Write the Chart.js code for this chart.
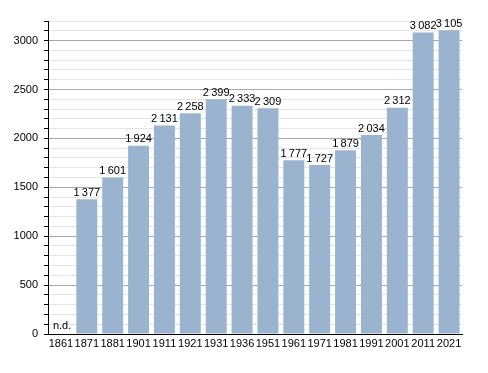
<!DOCTYPE html>
<html>
<head>
<meta charset="utf-8">
<script src="https://cdn.jsdelivr.net/npm/chart.js@4/dist/chart.umd.min.js"></script>
<style>
  html, body { margin: 0; padding: 0; background: #fff; }
  #wrap { width: 488px; height: 373px; position: relative; }
</style>
</head>
<body>
<div id="wrap"><canvas id="popChart"></canvas></div>
<script>
// anni dei censimenti
const years = ['1861', '1871', '1881', '1901', '1911', '1921', '1931', '1936', '1951', '1961', '1971', '1981', '1991', '2001', '2011', '2021'];
// abitanti (1861 non disponibile)
const population = [null, 1377, 1601, 1924, 2131, 2258, 2399, 2333, 2309, 1777, 1727, 1879, 2034, 2312, 3082, 3105];
// tacche principali dell'asse y
const majorTicks = [0, 500, 1000, 1500, 2000, 2500, 3000];

const barColor = '#9ab3ce';
const fontFamily = '"Liberation Sans", Arial, sans-serif';

function formatNum(v) {
    return String(v).replace(/\B(?=(\d{3})+(?!\d))/g, '\u2009');
}

// etichette sopra le barre + "n.d." per il dato mancante
const valueLabels = {
    id: 'valueLabels',
    afterDatasetsDraw(chart) {
        const ctx = chart.ctx;
        const meta = chart.getDatasetMeta(0);
        ctx.save();
        ctx.font = '11px ' + fontFamily;
        ctx.fillStyle = '#000';
        ctx.textAlign = 'center';
        ctx.textBaseline = 'bottom';
        meta.data.forEach((bar, i) => {
            const v = population[i];
            if (v == null) return;
            ctx.fillText(formatNum(v), bar.x, bar.y - 1);
        });
        population.forEach((v, i) => {
            if (v != null) return;
            const x = chart.scales.x.getPixelForValue(i);
            ctx.textAlign = 'left';
            ctx.textBaseline = 'alphabetic';
            ctx.fillText('n.d.', Math.max(x - 8, chart.chartArea.left + 3), chart.chartArea.bottom - 5);
        });
        ctx.restore();
    }
};

new Chart(document.getElementById('popChart'), {
    type: 'bar',
    data: {
        labels: years,
        datasets: [{
            data: population,
            backgroundColor: barColor,
            borderWidth: 0,
            barPercentage: 0.81,
            categoryPercentage: 1.0
        }]
    },
    options: {
        responsive: true,
        maintainAspectRatio: false,
        animation: false,
        layout: { padding: { top: 21, right: 26, left: 0, bottom: 0 } },
        plugins: {
            legend: { display: false },
            tooltip: { enabled: false }
        },
        scales: {
            x: {
                grid: { display: false, drawTicks: false },
                border: { color: '#000', width: 1 },
                ticks: { color: '#000', font: { size: 11, family: fontFamily }, padding: 3, maxRotation: 0, autoSkip: false },
                afterFit(scale) { scale.height = 39; }
            },
            y: {
                min: 0,
                max: 3200,
                border: { color: '#000', width: 1 },
                grid: {
                    color: (c) => majorTicks.includes(c.tick.value) ? '#a8a8a8' : '#e4e4e4',
                    tickColor: '#000',
                    tickLength: 4,
                    drawTicks: true
                },
                ticks: {
                    stepSize: 100,
                    autoSkip: false,
                    color: '#000',
                    font: { size: 11, family: fontFamily },
                    padding: 6,
                    callback: (v) => majorTicks.includes(v) ? String(v) : ''
                },
                afterFit(scale) { scale.width = 48; }
            }
        }
    },
    plugins: [valueLabels]
});
</script>
</body>
</html>
